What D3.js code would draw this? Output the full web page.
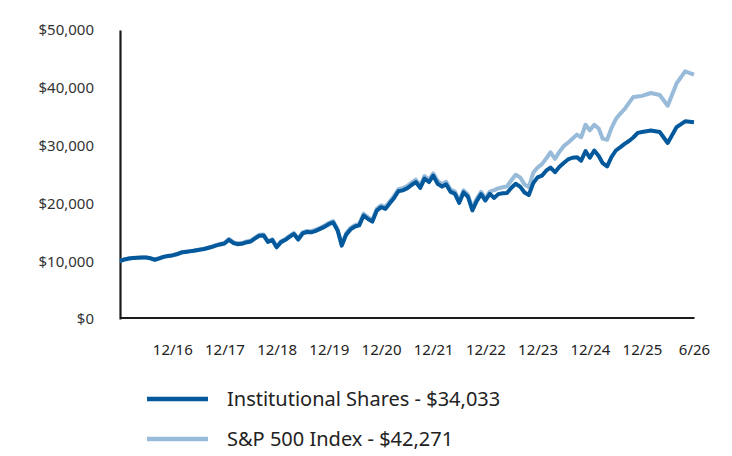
<!DOCTYPE html>
<html>
<head>
<meta charset="utf-8">
<script src="https://cdn.jsdelivr.net/npm/d3@7"></script>
<style>
  body { margin: 0; background: #fff; }
  svg { display: block; font-family: "Noto Sans", "Open Sans", sans-serif; }
</style>
</head>
<body>
<svg id="chart" width="732" height="456"></svg>
<script>
// monthly values, 12/15 through 6/26
const institutional = [
  10000, 10300, 10470, 10550, 10600, 10620, 10650, 10500, 10250, 10500, 10750, 10900,
  11000, 11200, 11500, 11600, 11700, 11800, 11950, 12050, 12250, 12450, 12700, 12900,
  13050, 13700, 13150, 12950, 13000, 13250, 13400, 13900, 14400, 14450, 13350, 13650,
  12400, 13300, 13700, 14200, 14700, 13750, 14800, 15050, 15000, 15250, 15600, 15950,
  16400, 16700, 15300, 12700, 14600, 15500, 16000, 16200, 17900, 17300, 16850, 18750,
  19350, 19050, 20050, 20900, 22100, 22250, 22600, 23150, 23700, 22700, 24300, 23700,
  24800, 23400, 22900, 23300, 22000, 21700, 20100, 21900, 21150, 18800, 20400, 21600,
  20500, 21650, 20950, 21600, 21750, 21800, 22700, 23400, 22900, 21900, 21450, 23500,
  24500, 24800, 25700, 26200, 25400, 26300, 27000, 27600, 27900, 28000, 27400, 29050,
  27900, 29150, 28200, 26950, 26400, 28000, 29150, 29700, 30300, 30800, 31400, 32200,
  32350, 32600, 32350, 30450, 33200, 34200, 34033
];
const sp500 = [
  10000, 10300, 10470, 10560, 10610, 10630, 10660, 10510, 10260, 10510, 10770, 10920,
  11030, 11230, 11540, 11640, 11740, 11850, 12000, 12110, 12310, 12520, 12780, 12990,
  13160, 13850, 13300, 13090, 13140, 13400, 13550, 14050, 14560, 14620, 13480, 13790,
  12530, 13450, 13850, 14370, 14880, 13900, 14970, 15230, 15180, 15440, 15790, 16150,
  16620, 16930, 15500, 12880, 14830, 15740, 16240, 16450, 18220, 17580, 17120, 19080,
  19680, 19380, 20400, 21250, 22450, 22620, 22980, 23550, 24120, 23080, 24720, 24120,
  25200, 23880, 23350, 23750, 22400, 22100, 20450, 22250, 21500, 19150, 20780, 22000,
  20880, 22050, 22300, 22600, 22800, 22950, 24000, 24950, 24500, 23300, 22800, 25300,
  26200, 26800, 27800, 28850, 27700, 28900, 29900, 30500, 31200, 31900, 31450, 33600,
  32650, 33600, 32950, 31200, 31000, 33000, 34600, 35500, 36300, 37400, 38400, 38500,
  38600, 39100, 38750, 36900, 40750, 42850, 42271
];
const tickLabels = ["12/16", "12/17", "12/18", "12/19", "12/20", "12/21", "12/22", "12/23", "12/24", "12/25", "6/26"];
const yTicks = [0, 10000, 20000, 30000, 40000, 50000];
const seriesNames = ["Institutional Shares - $34,033", "S&P 500 Index - $42,271"];
const colors = ["#04599c", "#98bbda"];

const svg = d3.select("#chart");
const start = new Date(2015, 11, 1);
const months = d3.timeMonth.range(start, new Date(2026, 6, 1));
const tickDates = tickLabels.map(s => {
  const [m, y] = s.split("/");
  return new Date(2000 + +y, +m - 1, 1);
});

// last half-year gets a full year's width, like the source
const x = d3.scaleTime()
  .domain([start, new Date(2025, 11, 1), new Date(2026, 5, 1)])
  .range([120, 642, 694]);
const y = d3.scaleLinear().domain([0, 50000]).range([319, 30]);

const fmt = d3.format("$,");

const yAxis = svg.append("g")
  .attr("transform", "translate(120,0)")
  .call(d3.axisLeft(y).tickValues(yTicks).tickFormat(fmt).tickSize(0).tickPadding(26));
yAxis.select(".domain").attr("stroke", "#1b1b1b").attr("stroke-width", 2.2);
yAxis.selectAll("text").attr("font-size", 15).attr("fill", "#333")
  .attr("font-family", "\"Noto Sans\", sans-serif");

const xAxis = svg.append("g")
  .attr("transform", "translate(0,317.5)")
  .call(d3.axisBottom(x).tickValues(tickDates).tickFormat((d, i) => tickLabels[i]).tickSize(0).tickSizeOuter(0).tickPadding(27));
xAxis.select(".domain").attr("stroke", "#1b1b1b").attr("stroke-width", 2.2);
xAxis.selectAll("text").attr("font-size", 15).attr("fill", "#222")
  .attr("font-family", "\"Noto Sans\", sans-serif");

const line = d3.line()
  .x((d, i) => x(months[i]))
  .y(d => y(d))
  .curve(d3.curveLinear);

svg.append("path")
  .datum(sp500)
  .attr("fill", "none")
  .attr("stroke", colors[1])
  .attr("stroke-width", 4)
  .attr("stroke-linejoin", "round")
  .attr("d", line);

svg.append("path")
  .datum(institutional)
  .attr("fill", "none")
  .attr("stroke", colors[0])
  .attr("stroke-width", 4)
  .attr("stroke-linejoin", "round")
  .attr("d", line);

// legend
const legend = svg.append("g").attr("transform", "translate(147,399)");
const rows = legend.selectAll("g")
  .data(seriesNames)
  .join("g")
  .attr("transform", (d, i) => `translate(0,${i * 40})`);
rows.append("line")
  .attr("x1", 0).attr("x2", 61)
  .attr("stroke", (d, i) => colors[i])
  .attr("stroke-width", 4.5);
rows.append("text")
  .attr("x", 80)
  .attr("dy", "0.35em")
  .attr("font-size", 20)
  .attr("fill", "#222")
  .text(d => d);
</script>
</body>
</html>
